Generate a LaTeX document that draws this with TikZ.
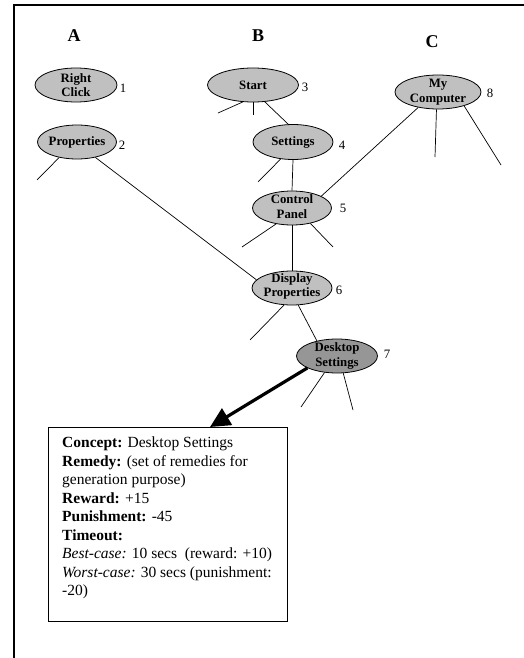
\documentclass[tikz,border=0pt]{standalone}
\usepackage{fontspec}
\setmainfont{Liberation Serif}
\usetikzlibrary{arrows.meta,shapes.geometric}
\definecolor{nodegray}{RGB}{192,192,192}
\definecolor{deepgray}{RGB}{150,150,150}
\begin{document}
\begin{tikzpicture}[x=1pt,y=-1pt,
  concept/.style={ellipse, draw, line width=0.8pt, fill=nodegray, inner sep=0pt, minimum height=34pt},
  ctext/.style={font=\fontsize{12.8}{14.5}\selectfont\bfseries, align=center, inner sep=0pt},
  num/.style={font=\fontsize{12.8}{15}\selectfont, inner sep=0pt},
  letter/.style={font=\fontsize{18}{20}\selectfont\bfseries, inner sep=0pt},
  link/.style={line width=0.7pt},
  infobox/.style={draw, line width=0.9pt, inner sep=0pt, anchor=north west},
  infotext/.style={font=\fontsize{15.5}{18.5}\selectfont, align=left, inner sep=0pt, anchor=north west}
]
\useasboundingbox (0,0) rectangle (524,658);
% frame
\draw[line width=1.4pt] (14,658) -- (14,5) -- (524,5);

% column letters
\node[letter] (la) at (74,36) {A};
\node[letter] (lb) at (258,36) {B};
\node[letter] (lc) at (432,42) {C};

% concept ellipses
\node[concept, minimum width=82pt] (rc) at (76,85) {};
\node[ctext] (rct) at (rc.center) {Right\\Click};
\node[concept, minimum width=79pt] (prop) at (77,142) {};
\node[ctext] (propt) at (prop.center) {Properties};
\node[concept, minimum width=91pt] (start) at (253,85) {};
\node[ctext] (startt) at (start.center) {Start};
\node[concept, minimum width=80pt, minimum height=35pt] (sett) at (293,142) {};
\node[ctext] (settt) at (sett.center) {Settings};
\node[concept, minimum width=79pt] (cp) at (292,208) {};
\node[ctext] (cpt) at ([yshift=1.5pt]cp.center) {Control\\Panel};
\node[concept, minimum width=80pt] (disp) at (292,288) {};
\node[ctext] (dispt) at ([yshift=1.5pt]disp.center) {Display\\Properties};
\node[concept, minimum width=81pt, fill=deepgray] (desk) at (337,356) {};
\node[ctext] (deskt) at (desk.center) {Desktop\\Settings};
\node[concept, minimum width=86pt] (myc) at (438,92) {};
\node[ctext] (myct) at (myc.center) {My\\Computer};

% numbers
\node[num] (n1) at (123,88) {1};
\node[num] (n2) at (122,145) {2};
\node[num] (n3) at (305,87) {3};
\node[num] (n4) at (342,145) {4};
\node[num] (n5) at (343,208) {5};
\node[num] (n6) at (339,290) {6};
\node[num] (n7) at (387,354) {7};
\node[num] (n8) at (490,93) {8};

% free ends of stub lines
\coordinate (s1) at (37,180);
\coordinate (s2) at (218,113);
\coordinate (s3) at (253,115);
\coordinate (s4) at (258,182);
\coordinate (s5) at (242,247);
\coordinate (s6) at (333,247);
\coordinate (s7) at (250,340);
\coordinate (s8) at (301,407);
\coordinate (s9) at (353,410);
\coordinate (s10) at (435,157);
\coordinate (s11) at (501,165);

% connectors
\draw[link] (start.-55) -- (sett.105);
\draw[link] (sett.south) -- (cp.north);
\draw[link] (myc.218) -- (cp.22);
\draw[link] (cp.south) -- (disp.north);
\draw[link] (prop.-40) -- (disp.167);
\draw[link] (disp.-70) -- (desk.143);

% stubs
\draw[link] (prop.-139) -- (s1);
\draw[link] (start.-121) -- (s2);
\draw[link] (start.south) -- (s3);
\draw[link] (sett.-126) -- (s4);
\draw[link] (cp.-135) -- (s5);
\draw[link] (cp.-40) -- (s6);
\draw[link] (disp.-115) -- (s7);
\draw[link] (desk.-127) -- (s8);
\draw[link] (desk.-70) -- (s9);
\draw[link] (myc.-95) -- (s10);
\draw[link] (myc.-28) -- (s11);

% info box
\node[infobox, minimum width=239pt, minimum height=194pt] (box) at (48,427) {};
\node[infotext] (info) at (62,437) {%
\textbf{Concept:} Desktop Settings\\
\textbf{Remedy:} (set of remedies for\\
generation purpose)\\
\textbf{Reward:} +15\\
\textbf{Punishment:} -45\\
\textbf{Timeout:}\\
\textit{Best-case:} 10 secs~ (reward: +10)\\
\textit{Worst-case:} 30 secs (punishment:\\
-20)};

% arrow
\coordinate (tip) at (210,427);
\draw[line width=3.2pt, -{Triangle[length=20pt,width=19pt]}] (desk.-158) -- (tip);
\end{tikzpicture}
\end{document}
